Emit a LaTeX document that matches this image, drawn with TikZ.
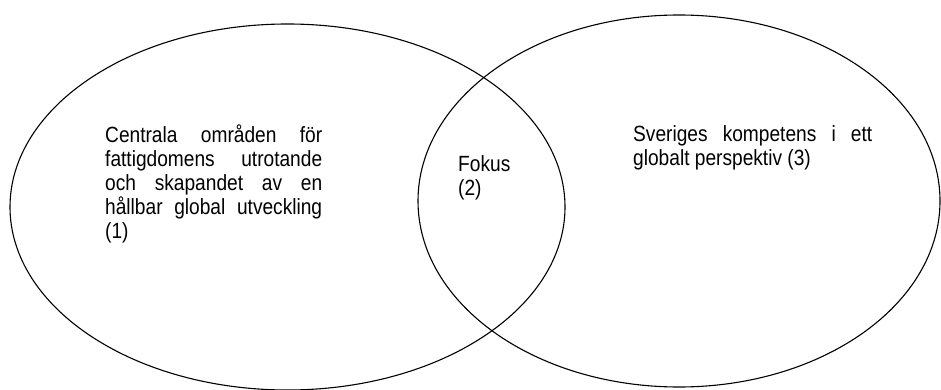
\documentclass[tikz,border=0pt]{standalone}
\usepackage{fontspec}
\setmainfont[FakeStretch=0.87]{Liberation Sans}
\usetikzlibrary{shapes.geometric}

\tikzset{
  circlebox/.style={draw, ellipse, line width=1.1pt, inner sep=0pt},
  textbox/.style={inner sep=0pt, anchor=north west, align=justify,
    font=\fontsize{22}{24}\selectfont}
}

\begin{document}
\begin{tikzpicture}[x=1pt, y=-1pt]

  \useasboundingbox (0,0) rectangle (941,390);

  % --- Left ellipse ---
  \node[circlebox, minimum width=555pt, minimum height=366pt] (left) at (287.5,207) {};

  % --- Right ellipse ---
  \node[circlebox, minimum width=522pt, minimum height=372pt] (right) at (679,201) {};

  % --- Texts ---
  \node[textbox, text width=217pt] (central) at (105,125)
    {Centrala områden för\linebreak fattigdomens utrotande\linebreak och skapandet av en\linebreak hållbar global utveckling\linebreak (1)};
  \node[textbox, align=left] (fokus) at (458,155) {Fokus\\(2)};
  \node[textbox, text width=239pt] (sverige) at (633,125)
    {Sveriges kompetens i ett\linebreak globalt perspektiv (3)};

\end{tikzpicture}
\end{document}
